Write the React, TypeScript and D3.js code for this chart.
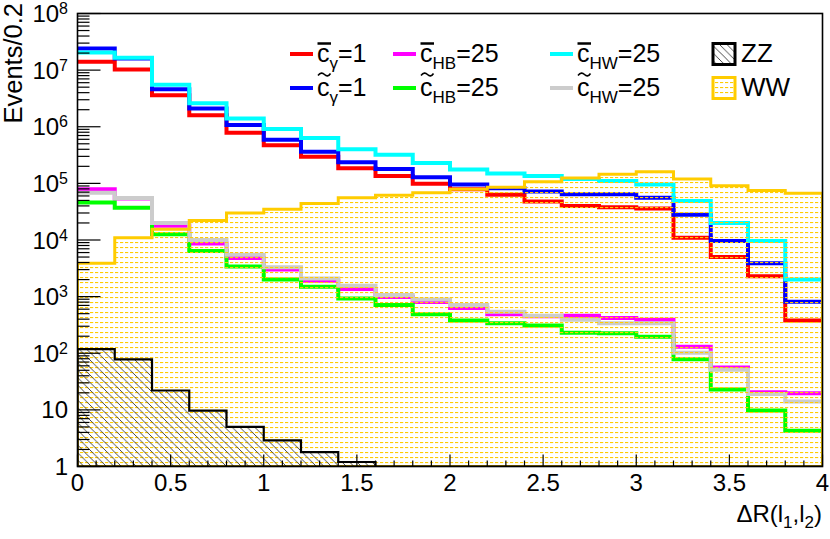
import React, { useEffect, useRef } from "react";
import * as d3 from "d3";

// bin edges of the ΔR(l1,l2) histogram (20 bins of 0.2)
const binEdges = [0, 0.2, 0.4, 0.6, 0.8, 1.0, 1.2, 1.4, 1.6, 1.8, 2.0, 2.2, 2.4, 2.6, 2.8, 3.0, 3.2, 3.4, 3.6, 3.8, 4.0];

// signal samples (events / 0.2)
const cbarGamma = [1.4e7, 1.03e7, 3.6e6, 1.6e6, 7.8e5, 4.7e5, 2.96e5, 1.85e5, 1.35e5, 9.8e4, 7.9e4, 6.3e4, 4.8e4, 4.0e4, 3.8e4, 3.6e4, 1.1e4, 5.0e3, 2.3e3, 3.8e2];
const ctildeGamma = [2.4e7, 1.6e7, 4.6e6, 2.1e6, 1.07e6, 5.9e5, 3.6e5, 2.36e5, 1.8e5, 1.28e5, 9.6e4, 8.2e4, 7.2e4, 6.4e4, 6.4e4, 5.6e4, 2.8e4, 9.6e3, 3.9e3, 8.1e2];
const cbarHB = [7.9e4, 5.4e4, 1.78e4, 8.7e3, 4.8e3, 3.0e3, 1.9e3, 1.37e3, 9.8e2, 8.0e2, 6.3e2, 4.9e2, 4.5e2, 4.6e2, 4.2e2, 3.9e2, 1.3e2, 56, 20.5, 19.6];
const ctildeHB = [4.6e4, 3.7e4, 1.26e4, 6.4e3, 3.4e3, 2.0e3, 1.5e3, 9.3e2, 7.1e2, 4.9e2, 3.8e2, 3.4e2, 3.1e2, 2.3e2, 2.25e2, 1.96e2, 78, 23, 9.7, 4.3];
const cbarHW = [2.05e7, 1.66e7, 5.5e6, 2.6e6, 1.4e6, 9.1e5, 6.3e5, 4.0e5, 3.2e5, 2.3e5, 1.75e5, 1.5e5, 1.35e5, 1.2e5, 1.1e5, 9.6e4, 4.9e4, 2.0e4, 9.6e3, 2.0e3];
const ctildeHW = [6.8e4, 5.5e4, 2.0e4, 1.0e4, 5.5e3, 3.3e3, 2.1e3, 1.55e3, 1.07e3, 8.9e2, 7.1e2, 5.4e2, 4.6e2, 3.9e2, 3.4e2, 3.4e2, 1.02e2, 51, 19, 14];

// backgrounds
const wwValues = [3.9e3, 1.1e4, 1.55e4, 2.2e4, 3.0e4, 3.5e4, 4.4e4, 5.6e4, 6.2e4, 6.8e4, 7.9e4, 8.5e4, 1.07e5, 1.24e5, 1.45e5, 1.6e5, 1.2e5, 9.1e4, 7.5e4, 6.7e4];
const zzValues = [118, 78, 22, 9.7, 5.0, 2.9, 1.8, 1.2, 0, 0, 0, 0, 0, 0, 0, 0, 0, 0, 0, 0];

// legend text pieces, same order as the signal list
const signalList = [cbarGamma, ctildeGamma, cbarHB, ctildeHB, cbarHW, ctildeHW];
const legendAccents = ["bar", "tilde", "bar", "tilde", "bar", "tilde"];
const legendSubs = ["γ", "γ", "HB", "HB", "HW", "HW"];
const legendValues = ["=1", "=1", "=25", "=25", "=25", "=25"];
const signalColors = ["#ff0000", "#0000ff", "#ff00ff", "#00ff00", "#00ffff", "#cccccc"];

const xTickValues = [0, 0.5, 1, 1.5, 2, 2.5, 3, 3.5, 4];
const yDecades = [0, 1, 2, 3, 4, 5, 6, 7, 8];

const FONT = "'Liberation Sans', Arial, Helvetica, sans-serif";
const WW_COLOR = "#ffcc00";

const App = () => {
  const ref = useRef<SVGSVGElement>(null);

  function renderChart() {
    const svg = d3.select(ref.current);
    svg.selectAll("*").remove();

    const left = 77.5, right = 822.5, top = 13.5, bottom = 466.5;
    const x = d3.scaleLinear().domain([0, 4]).range([left, right]);
    const y = d3.scaleLog().domain([1, 1e8]).range([bottom, top]).clamp(true);
    const yv = (v: number) => y(Math.max(v, 1));

    const defs = svg.append("defs");
    const ww = defs
      .append("pattern")
      .attr("id", "wwFill")
      .attr("patternUnits", "userSpaceOnUse")
      .attr("width", 5)
      .attr("height", 5);
    ww.append("rect").attr("x", 0).attr("y", 2).attr("width", 3.2).attr("height", 1.1).attr("fill", WW_COLOR);

    const hatch = defs
      .append("pattern")
      .attr("id", "zzFill")
      .attr("patternUnits", "userSpaceOnUse")
      .attr("width", 7.5)
      .attr("height", 7.5);
    hatch
      .append("path")
      .attr("d", "M-2,-2L9.5,9.5M-2,5.5L2,9.5M5.5,-2L9.5,2")
      .attr("stroke", "#333")
      .attr("stroke-width", 0.9);

    defs
      .append("clipPath")
      .attr("id", "frameClip")
      .append("rect")
      .attr("x", left)
      .attr("y", top)
      .attr("width", right - left)
      .attr("height", bottom - top);

    const steps = (vals: number[]) =>
      vals.flatMap((v, i) => [
        [binEdges[i], v],
        [binEdges[i + 1], v],
      ]);

    const line = d3
      .line<number[]>()
      .x((d) => x(d[0]))
      .y((d) => yv(d[1]));
    const area = d3
      .area<number[]>()
      .x((d) => x(d[0]))
      .y0(bottom)
      .y1((d) => yv(d[1]));

    const plot = svg.append("g").attr("clip-path", "url(#frameClip)");

    //draw signal histograms
    signalList.forEach((vals, i) => {
      plot
        .append("path")
        .datum(steps(vals))
        .attr("d", line)
        .attr("fill", "none")
        .attr("stroke", signalColors[i])
        .attr("stroke-width", 4);
    });

    //WW background, pattern drawn over the lines
    plot.append("path").datum(steps(wwValues)).attr("d", area).attr("fill", "url(#wwFill)");
    plot
      .append("path")
      .datum(steps(wwValues))
      .attr("d", area)
      .attr("fill", "none")
      .attr("stroke", WW_COLOR)
      .attr("stroke-width", 3);

    //ZZ background
    plot.append("path").datum(steps(zzValues)).attr("d", area).attr("fill", "url(#zzFill)");
    plot
      .append("path")
      .datum(steps(zzValues))
      .attr("d", area)
      .attr("fill", "none")
      .attr("stroke", "#000")
      .attr("stroke-width", 2.2);

    //frame
    svg
      .append("rect")
      .attr("x", left)
      .attr("y", top)
      .attr("width", right - left)
      .attr("height", bottom - top)
      .attr("fill", "none")
      .attr("stroke", "#000")
      .attr("stroke-width", 1.6);

    //x ticks
    const axis = svg.append("g").attr("stroke", "#000").attr("stroke-width", 1.2);
    x.ticks(40).forEach((t) => {
      const major = xTickValues.some((m) => Math.abs(m - t) < 1e-6);
      axis
        .append("line")
        .attr("x1", x(t))
        .attr("x2", x(t))
        .attr("y1", bottom)
        .attr("y2", bottom - (major ? 12 : 6));
    });
    xTickValues.forEach((t) => {
      svg
        .append("text")
        .attr("x", x(t))
        .attr("y", 491)
        .attr("text-anchor", "middle")
        .attr("font-family", FONT)
        .attr("font-size", 24)
        .text(String(t));
    });

    //y ticks
    y.ticks().forEach((t) => {
      const major = Math.abs(Math.log10(t) - Math.round(Math.log10(t))) < 1e-9;
      axis
        .append("line")
        .attr("x1", left)
        .attr("x2", left + (major ? 23 : 12))
        .attr("y1", y(t))
        .attr("y2", y(t));
    });
    yDecades.forEach((k) => {
      const t = svg
        .append("text")
        .attr("x", 68)
        .attr("y", y(Math.pow(10, k)) + 8.5)
        .attr("text-anchor", "end")
        .attr("font-family", FONT)
        .attr("font-size", 24);
      if (k === 0) t.text("1");
      else if (k === 1) t.text("10");
      else {
        t.append("tspan").text("10");
        t.append("tspan").attr("font-size", 16).attr("dy", -8).text(String(k));
      }
    });

    //axis titles
    svg
      .append("text")
      .attr("transform", "translate(22,3) rotate(-90)")
      .attr("text-anchor", "end")
      .attr("font-family", FONT)
      .attr("font-size", 25.5)
      .text("Events/0.2");

    const xt = svg
      .append("text")
      .attr("x", 822)
      .attr("y", 522)
      .attr("text-anchor", "end")
      .attr("font-family", FONT)
      .attr("font-size", 24);
    xt.append("tspan").text("ΔR(l");
    xt.append("tspan").attr("font-size", 17).attr("dy", 6).text("1");
    xt.append("tspan").attr("dy", -6).text(",l");
    xt.append("tspan").attr("font-size", 17).attr("dy", 6).text("2");
    xt.append("tspan").attr("dy", -6).text(")");

    //legend
    const colX = [290, 393, 550];
    const rowY = [54, 88];
    const legend = svg.append("g").attr("font-family", FONT);
    signalList.forEach((_, i) => {
      const cx = colX[Math.floor(i / 2)];
      const cy = rowY[i % 2];
      legend
        .append("line")
        .attr("x1", cx)
        .attr("x2", cx + 23)
        .attr("y1", cy)
        .attr("y2", cy)
        .attr("stroke", signalColors[i])
        .attr("stroke-width", 4);
      const tx = cx + 27;
      const by = cy + 8;
      const t = legend.append("text").attr("x", tx).attr("y", by).attr("font-size", 25);
      t.append("tspan").text("c");
      t.append("tspan").attr("font-size", 17).attr("dy", 7).text(legendSubs[i]);
      t.append("tspan").attr("dy", -7).text(legendValues[i]);
      if (legendAccents[i] === "bar") {
        legend
          .append("line")
          .attr("x1", tx + 0.5)
          .attr("x2", tx + 14)
          .attr("y1", by - 18.5)
          .attr("y2", by - 18.5)
          .attr("stroke", "#000")
          .attr("stroke-width", 2.5);
      } else {
        legend
          .append("path")
          .attr("transform", `translate(${tx + 1},${by - 23})`)
          .attr("d", "M0,2.5C2.5,-0.5 4.5,-0.5 6.5,1.5S10.5,3.5 12.5,0.5")
          .attr("fill", "none")
          .attr("stroke", "#000")
          .attr("stroke-width", 1.6);
      }
    });

    const boxX = 713;
    legend
      .append("rect")
      .attr("x", boxX)
      .attr("y", rowY[0] - 10.5)
      .attr("width", 22)
      .attr("height", 21)
      .attr("fill", "url(#zzFill)")
      .attr("stroke", "#000")
      .attr("stroke-width", 3);
    legend
      .append("rect")
      .attr("x", boxX)
      .attr("y", rowY[1] - 10.5)
      .attr("width", 22)
      .attr("height", 21)
      .attr("fill", "url(#wwFill)")
      .attr("stroke", WW_COLOR)
      .attr("stroke-width", 3);
    legend.append("text").attr("x", 741).attr("y", rowY[0] + 8).attr("font-size", 26).text("ZZ");
    legend.append("text").attr("x", 741).attr("y", rowY[1] + 8).attr("font-size", 26).text("WW");
  }

  useEffect(() => {
    renderChart();
  }, []);

  return (
    <svg
      ref={ref}
      width={830}
      height={539}
      style={{ position: "absolute", left: 0, top: 0, background: "#fff" }}
    />
  );
};

export default App;
